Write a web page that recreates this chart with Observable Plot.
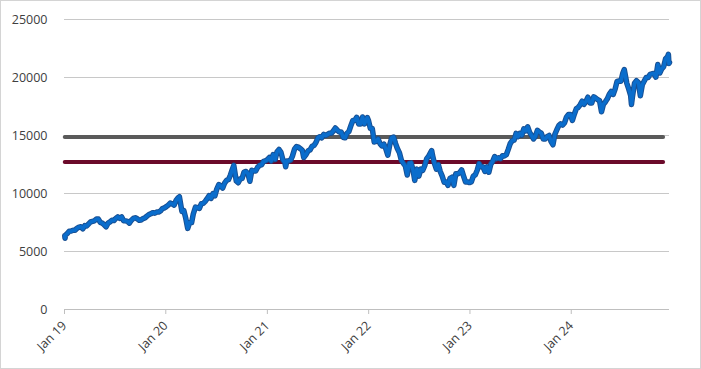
<!DOCTYPE html>
<html><head><meta charset="utf-8">
<script src="https://cdn.jsdelivr.net/npm/d3@7"></script>
<script src="https://cdn.jsdelivr.net/npm/@observablehq/plot@0.6"></script>
<style>
body{margin:0;background:#fff}
#chart svg{display:block;outline:1px solid #d4d4d4;outline-offset:-1px}
</style></head><body><div id="chart"></div>
<script>
const dates = [
"2019-01-02","2019-01-03","2019-01-04","2019-01-11","2019-01-18","2019-01-25","2019-02-01","2019-02-08","2019-02-15","2019-02-22","2019-03-01","2019-03-08","2019-03-15","2019-03-22","2019-03-29","2019-04-05","2019-04-12","2019-04-19","2019-04-26","2019-05-03","2019-05-10","2019-05-17","2019-05-24","2019-05-31","2019-06-07","2019-06-14","2019-06-21","2019-06-28","2019-07-05","2019-07-12","2019-07-19","2019-07-26","2019-08-02","2019-08-09","2019-08-16","2019-08-23","2019-08-30","2019-09-06","2019-09-13","2019-09-20","2019-09-27","2019-10-04","2019-10-11","2019-10-18","2019-10-25","2019-11-01","2019-11-08","2019-11-15","2019-11-22","2019-11-29","2019-12-06","2019-12-13","2019-12-20","2019-12-27",
"2020-01-03","2020-01-10","2020-01-17","2020-01-24","2020-01-31","2020-02-07","2020-02-14","2020-02-19","2020-02-28","2020-03-06","2020-03-13","2020-03-20","2020-03-27","2020-04-03","2020-04-09","2020-04-17","2020-04-24","2020-05-01","2020-05-08","2020-05-15","2020-05-22","2020-05-29","2020-06-05","2020-06-12","2020-06-19","2020-06-26","2020-07-02","2020-07-10","2020-07-17","2020-07-24","2020-07-31","2020-08-07","2020-08-14","2020-08-21","2020-08-28","2020-09-02","2020-09-11","2020-09-18","2020-09-25","2020-10-02","2020-10-09","2020-10-16","2020-10-23","2020-10-30","2020-11-06","2020-11-13","2020-11-20","2020-11-27","2020-12-04","2020-12-11","2020-12-18","2020-12-24","2020-12-31",
"2021-01-08","2021-01-15","2021-01-22","2021-01-29","2021-02-05","2021-02-12","2021-02-19","2021-02-26","2021-03-05","2021-03-08","2021-03-12","2021-03-19","2021-03-26","2021-04-01","2021-04-09","2021-04-16","2021-04-23","2021-04-30","2021-05-07","2021-05-12","2021-05-21","2021-05-28","2021-06-04","2021-06-11","2021-06-18","2021-06-25","2021-07-02","2021-07-09","2021-07-16","2021-07-23","2021-07-30","2021-08-06","2021-08-13","2021-08-20","2021-08-27","2021-09-03","2021-09-10","2021-09-17","2021-09-24","2021-10-01","2021-10-08","2021-10-15","2021-10-22","2021-10-29","2021-11-05","2021-11-12","2021-11-19","2021-11-26","2021-12-03","2021-12-10","2021-12-17","2021-12-27","2021-12-31",
"2022-01-07","2022-01-14","2022-01-21","2022-01-28","2022-02-04","2022-02-11","2022-02-18","2022-02-25","2022-03-04","2022-03-11","2022-03-18","2022-03-25","2022-04-01","2022-04-08","2022-04-14","2022-04-22","2022-04-29","2022-05-06","2022-05-13","2022-05-20","2022-05-27","2022-06-03","2022-06-10","2022-06-16","2022-06-24","2022-07-01","2022-07-08","2022-07-15","2022-07-22","2022-07-29","2022-08-05","2022-08-16","2022-08-19","2022-08-26","2022-09-02","2022-09-09","2022-09-16","2022-09-23","2022-09-30","2022-10-07","2022-10-14","2022-10-21","2022-10-28","2022-11-04","2022-11-11","2022-11-18","2022-11-25","2022-12-02","2022-12-09","2022-12-16","2022-12-23","2022-12-30",
"2023-01-06","2023-01-13","2023-01-20","2023-01-27","2023-02-03","2023-02-10","2023-02-17","2023-02-24","2023-03-03","2023-03-10","2023-03-17","2023-03-24","2023-03-31","2023-04-06","2023-04-14","2023-04-21","2023-04-28","2023-05-05","2023-05-12","2023-05-19","2023-05-26","2023-06-02","2023-06-09","2023-06-16","2023-06-23","2023-06-30","2023-07-07","2023-07-14","2023-07-21","2023-07-28","2023-08-04","2023-08-11","2023-08-18","2023-08-25","2023-09-01","2023-09-08","2023-09-15","2023-09-22","2023-09-29","2023-10-06","2023-10-13","2023-10-20","2023-10-27","2023-11-03","2023-11-10","2023-11-17","2023-11-24","2023-12-01","2023-12-08","2023-12-15","2023-12-22","2023-12-29",
"2024-01-05","2024-01-12","2024-01-19","2024-01-26","2024-02-02","2024-02-09","2024-02-16","2024-02-23","2024-03-01","2024-03-08","2024-03-15","2024-03-22","2024-03-28","2024-04-05","2024-04-12","2024-04-19","2024-04-26","2024-05-03","2024-05-10","2024-05-17","2024-05-24","2024-05-31","2024-06-07","2024-06-14","2024-06-21","2024-06-28","2024-07-05","2024-07-10","2024-07-19","2024-07-26","2024-08-02","2024-08-05","2024-08-09","2024-08-16","2024-08-23","2024-08-30","2024-09-06","2024-09-13","2024-09-20","2024-09-27","2024-10-04","2024-10-11","2024-10-18","2024-10-25","2024-11-01","2024-11-08","2024-11-15","2024-11-22","2024-11-29","2024-12-06","2024-12-13","2024-12-16","2024-12-18","2024-12-20"
];
const values = [
6360,6150,6400,6550,6750,6760,6830,6830,7000,7100,7130,6960,7230,7200,7380,7550,7600,7650,7800,7800,7510,7450,7300,7130,7450,7550,7700,7670,7850,7980,7850,7980,7650,7640,7600,7450,7700,7850,7910,7820,7700,7720,7840,7900,8050,8180,8250,8350,8300,8400,8400,8500,8700,8760,
8870,9000,9170,9100,9000,9400,9620,9720,8460,8530,7850,6990,7500,7490,8230,8830,8780,8720,9120,9150,9320,9550,9820,9580,10000,9800,10330,10770,10650,10470,10900,11130,11200,11600,12100,12420,11080,10930,11250,11300,11850,11900,11700,11050,12000,11940,11950,12260,12430,12470,12760,12800,12890,
13100,12800,13360,12930,13600,13800,13550,12900,12670,12300,12800,12800,12890,13200,13840,14040,13990,13860,13720,13100,13380,13690,13760,14070,14140,14400,14800,14900,14800,15100,15000,15100,15200,15200,15400,15650,15460,15300,15300,14850,14800,15200,15350,15850,16300,16300,16570,16000,16000,16600,16000,16550,16320,
15620,15600,14440,14500,14700,14300,14100,14250,13840,13300,14200,14800,14870,14300,13900,13500,12850,12600,12390,11600,12600,12640,12000,11130,12100,11500,12100,12000,12400,13000,13200,13700,13300,12600,12100,12500,11900,11500,10970,11000,10700,11300,11400,10700,11700,11700,11800,12030,11500,11000,11000,10940,
11000,11500,11600,12000,12580,12300,12300,11900,12300,11830,12520,12770,13180,13000,13080,13000,13250,13240,13340,13800,14300,14550,14600,15180,14900,15180,15030,15570,15400,15750,15270,15000,14700,14940,15450,15300,15200,14700,14700,14900,15000,14500,14200,15100,15500,15850,16000,15900,16100,16600,16800,16800,
16300,16830,17300,17420,17640,17960,17690,17940,18300,17810,17800,18340,18250,18100,18000,17040,17700,17900,18160,18550,18800,18540,19000,19660,19700,19680,20390,20680,19520,19020,18440,17680,18430,19510,19720,19570,18420,19370,19690,20000,20000,20270,20320,20350,20030,21120,20390,20740,20930,21620,21780,22000,21200,21290
];
const levelGray = 14880;
const levelRed = 12720;
const levelSpan = ["2019-01-02", "2024-11-27"];
const yTicks = [0, 5000, 10000, 15000, 20000, 25000];
const xTickDates = ["2019-01-01", "2020-01-01", "2021-01-01", "2022-01-01", "2023-01-01", "2024-01-01"];
const xTickLabels = ["Jan 19", "Jan 20", "Jan 21", "Jan 22", "Jan 23", "Jan 24"];

const parse = d3.utcParse("%Y-%m-%d");
const series = dates.map((d, i) => ({date: parse(d), value: values[i]}));
const grayRows = levelSpan.map(d => ({date: parse(d), value: levelGray}));
const redRows = levelSpan.map(d => ({date: parse(d), value: levelRed}));
const xTicks = xTickDates.map(parse);

const chart = Plot.plot({
  width: 701, height: 369,
  marginLeft: 64, marginRight: 32, marginTop: 19, marginBottom: 60,
  style: {fontFamily: "'Open Sans', sans-serif", fontSize: "12.5px", color: "#404040", background: "#fff", overflow: "visible"},
  x: {type: "utc", domain: [parse("2019-01-01"), parse("2024-12-20")]},
  y: {domain: [0, 25000]},
  marks: [
    Plot.gridY(yTicks, {stroke: "#c8c8c8", strokeOpacity: 1}),
    Plot.axisY(yTicks, {tickSize: 0, tickPadding: 17, tickFormat: d => String(d), label: null, fill: "#404040"}),
    Plot.axisX(xTicks, {tickSize: 5, tickPadding: 9, stroke: "#bfbfbf", strokeOpacity: 1, fill: "#404040", tickRotate: -45,
      tickFormat: d => xTickLabels[xTicks.findIndex(t => +t === +d)], label: null}),
    Plot.ruleY([0], {stroke: "#bfbfbf"}),
    Plot.line(grayRows, {x: "date", y: "value", stroke: "#5a5a5a", strokeWidth: 4, strokeLinecap: "round"}),
    Plot.line(redRows, {x: "date", y: "value", stroke: "#6b0a2a", strokeWidth: 4, strokeLinecap: "round"}),
    Plot.line(series, {x: "date", y: "value", stroke: "#184f92", strokeWidth: 5.5}),
    Plot.line(series, {x: "date", y: "value", stroke: "#0a6dcc", strokeWidth: 3.6})
  ]
});
document.getElementById("chart").append(chart);
</script>
</body></html>
